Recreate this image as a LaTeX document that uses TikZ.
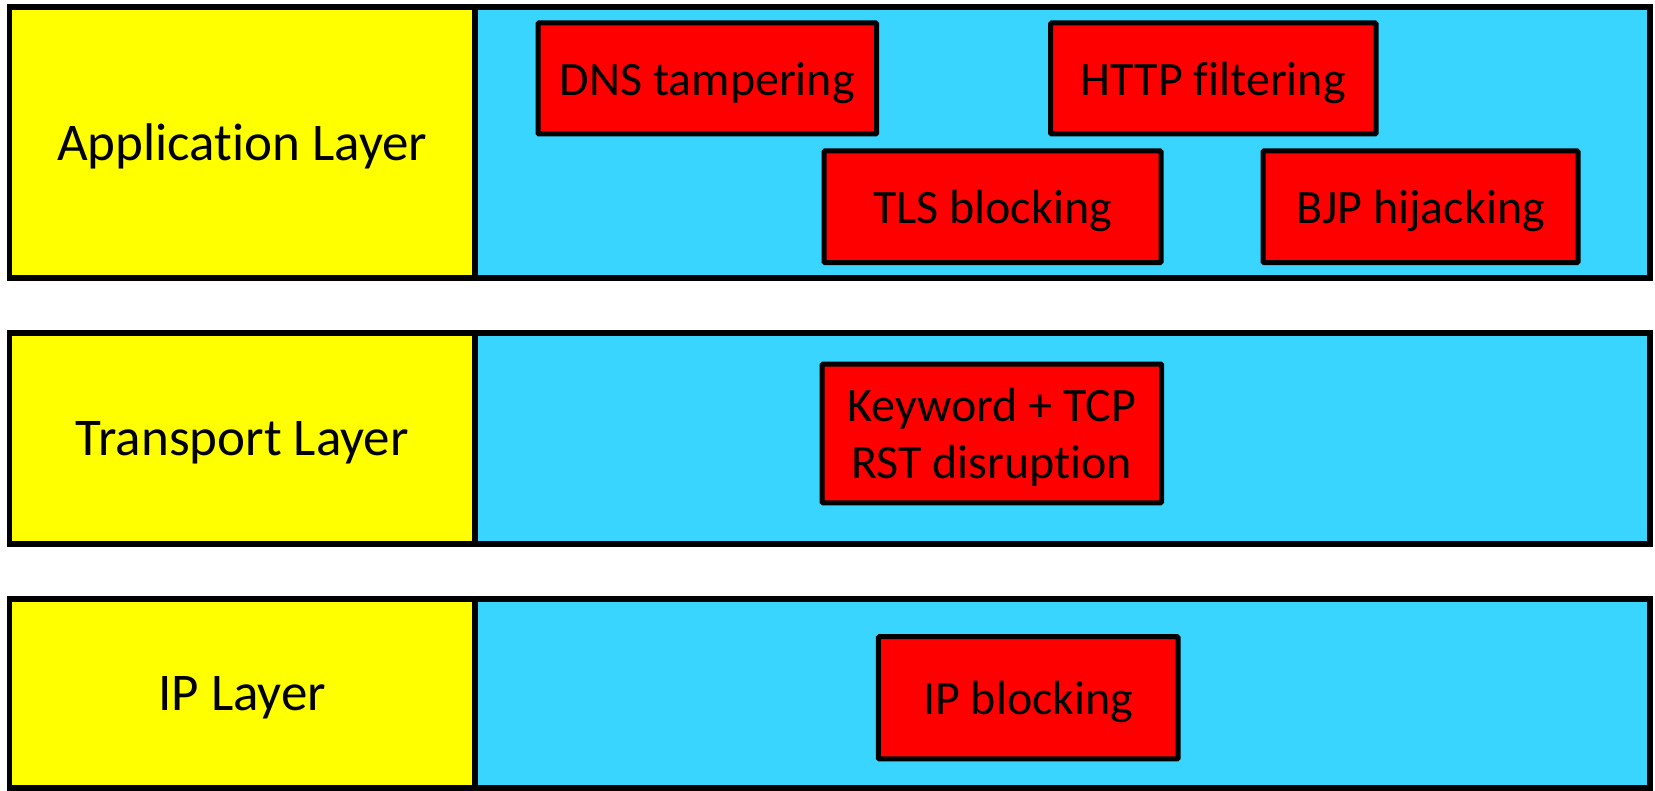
\documentclass[tikz,border=0pt]{standalone}
\usepackage{fontspec}
\setmainfont{Carlito}[Ligatures=NoCommon]
\definecolor{lyellow}{HTML}{FFFF00}
\definecolor{lblue}{HTML}{3AD5FF}
\definecolor{lred}{HTML}{FF0000}
\tikzset{
  layerlabel/.style={draw=black, line width=5.5pt, fill=lyellow, inner sep=0pt, outer sep=0pt,
    text depth=0pt, font=\fontsize{53}{60}\selectfont},
  layerbody/.style={draw=black, line width=5.5pt, fill=lblue, inner sep=0pt, outer sep=0pt},
  attack/.style={draw=black, line width=5pt, fill=lred, inner sep=0pt, outer sep=0pt,
    rounded corners=1pt, align=center, text depth=0pt, font=\fontsize{48}{57}\selectfont},
}
\begin{document}
\begin{tikzpicture}[x=1pt, y=-1pt]
\useasboundingbox (0,0) rectangle (1655,791);
% Application layer
\node[layerbody, minimum width=1175pt, minimum height=271pt] (appbody) at (1062.5,142.5) {};
\node[layerlabel, minimum width=465.4pt, minimum height=271pt] (app) at (242.3,142.5) {Application Layer};
% Transport layer
\node[layerbody, minimum width=1175pt, minimum height=211pt] (trbody) at (1062.5,438.5) {};
\node[layerlabel, minimum width=465.4pt, minimum height=211pt] (tr) at (242.3,438.5) {Transport Layer};
% IP layer
\node[layerbody, minimum width=1175pt, minimum height=189pt] (ipbody) at (1062.5,693.5) {};
\node[layerlabel, minimum width=465.4pt, minimum height=189pt] (ip) at (242.3,693.5) {IP Layer};
% attacks
\node[attack, minimum width=338.6pt, minimum height=111pt] (dns) at (707.3,78.5) {DNS tampering};
\node[attack, minimum width=325.5pt, minimum height=111pt] (http) at (1213.3,78.5) {HTTP filtering};
\node[attack, minimum width=337pt, minimum height=111.6pt] (tls) at (992.5,206.8) {TLS blocking};
\node[attack, minimum width=315pt, minimum height=111.6pt] (bjp) at (1420.5,206.8) {BJP hijacking};
\node[attack, minimum width=339.6pt, minimum height=138.7pt] (kw) at (991.8,433.4) {Keyword + TCP\\RST disruption};
\node[attack, minimum width=299.6pt, minimum height=122.3pt] (ipb) at (1028.2,697.8) {IP blocking};
\end{tikzpicture}
\end{document}
